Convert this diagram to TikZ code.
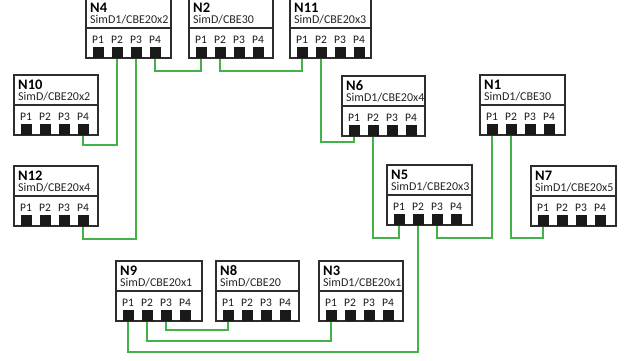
\documentclass[tikz,border=0pt]{standalone}
\usepackage{fontspec}
\setmainfont{Carlito}
\definecolor{wiregreen}{RGB}{68,178,72}
\definecolor{boxgray}{RGB}{45,45,45}
\tikzset{
 devbox/.style={draw=boxgray, line width=1.5pt, fill=white, inner sep=0pt, minimum height=60pt},
 devline/.style={draw=boxgray, line width=1.5pt},
 titletext/.style={font=\fontsize{14.5}{14.5}\selectfont\bfseries, inner sep=0pt, text=black},
 subtext/.style={font=\fontsize{12}{12}\selectfont, inner sep=0pt, text=black!85},
 portlbl/.style={font=\fontsize{11.5}{11.5}\selectfont, inner sep=0pt, text=black!90},
 portsq/.style={fill=black!90, inner sep=0pt, minimum width=11pt, minimum height=11pt},
 wire/.style={draw=wiregreen, line width=2pt},
}
% #1 name, #2 left x, #3 top y, #4 width, #5 title, #6 subtitle
\newcommand\devnode[6]{%
 \node[devbox, minimum width=#4pt, anchor=north west] (#1) at (#2,#3) {};
 \draw[devline] ([yshift=-31pt]#1.north west) -- ([yshift=-31pt]#1.north east);
 \node[titletext, anchor=base west] (#1-t) at ([xshift=5pt,yshift=-15pt]#1.north west) {#5};
 \node[subtext, anchor=base west] (#1-s) at ([xshift=5pt,yshift=-26.5pt]#1.north west) {#6};
 \foreach \i/\dx in {1/13,2/32,3/51,4/70}{%
  \node[portsq, anchor=south] (#1-p\i) at ([xshift=\dx pt]#1.south west) {};
  \node[portlbl, anchor=base] (#1-l\i) at ([xshift=\dx pt,yshift=15pt]#1.south west) {P\i};
 }%
}
\begin{document}
\begin{tikzpicture}[x=1pt,y=-1pt]
\fill[white] (0,0) rectangle (624,360);
\useasboundingbox (0,0) rectangle (624,360);

\devnode{N4}{85}{-3}{85}{N4}{SimD1/CBE20x2}
\devnode{N2}{188}{-3}{84}{N2}{SimD/CBE30}
\devnode{N11}{289}{-3}{81}{N11}{SimD/CBE20x3}
\devnode{N10}{13}{74}{84}{N10}{SimD/CBE20x2}
\devnode{N6}{341}{75}{83}{N6}{SimD1/CBE20x4}
\devnode{N1}{479}{74}{85}{N1}{SimD1/CBE30}
\devnode{N12}{13}{165}{84}{N12}{SimD/CBE20x4}
\devnode{N5}{386}{164}{85}{N5}{SimD1/CBE20x3}
\devnode{N7}{530}{165}{85}{N7}{SimD1/CBE20x5}
\devnode{N9}{115}{260}{86}{N9}{SimD/CBE20x1}
\devnode{N8}{215}{260}{83}{N8}{SimD/CBE20}
\devnode{N3}{318}{260}{84}{N3}{SimD1/CBE20x1}

\draw[wire] (N4-p4.south) -- (N4-p4.south |- 0,71) -| (N2-p1.south);
\draw[wire] (N2-p2.south) -- (N2-p2.south |- 0,71) -| (N11-p1.south);
\draw[wire] (N11-p2.south) -- (N11-p2.south |- 0,142) -| (N6-p1.south);
\draw[wire] (N4-p2.south) -- (N4-p2.south |- 0,145) -| (N10-p4.south);
\draw[wire] (N4-p3.south) -- (N4-p3.south |- 0,239) -| (N12-p4.south);
\draw[wire] (N6-p2.south) -- (N6-p2.south |- 0,238) -| (N5-p1.south);
\draw[wire] (N1-p1.south) -- (N1-p1.south |- 0,238) -| (N5-p3.south);
\draw[wire] (N1-p2.south) -- (N1-p2.south |- 0,238) -| (N7-p1.south);
\draw[wire] (N5-p2.south) -- (N5-p2.south |- 0,352) -| (N9-p1.south);
\draw[wire] (N9-p3.south) -- (N9-p3.south |- 0,330) -| (N8-p1.south);
\draw[wire] (N9-p2.south) -- (N9-p2.south |- 0,341) -| (N3-p1.south);
\end{tikzpicture}
\end{document}
